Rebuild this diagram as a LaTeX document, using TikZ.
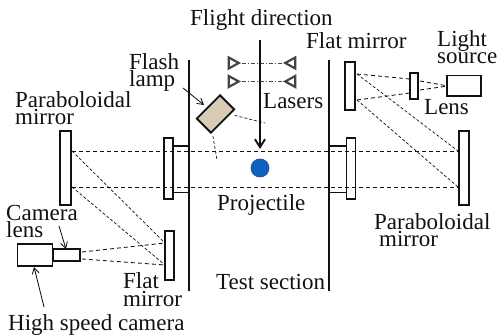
\documentclass[tikz,border=0pt]{standalone}
\usepackage{fontspec}
\setmainfont{Liberation Serif}
\usetikzlibrary{arrows.meta,shapes.geometric}
\definecolor{ink}{HTML}{111111}
\definecolor{lampfill}{HTML}{D8CCB4}
\definecolor{laserline}{HTML}{444444}
\definecolor{ballfill}{HTML}{0F62C0}
\definecolor{ballline}{HTML}{2F4F8F}
\tikzset{
  label text/.style={
    font=\fontsize{23}{17.5}\selectfont,
    text=ink,
    anchor=base west,
    align=left,
    inner sep=0pt
  },
  part/.style={
    draw=ink,
    line width=1.9pt,
    fill=none,
    inner sep=0pt,
    minimum width=10pt
  },
  wall/.style={
    draw=ink,
    line width=1.9pt
  },
  beam/.style={
    draw=ink,
    line width=0.85pt,
    dash pattern=on 4pt off 3pt
  },
  thin beam/.style={
    beam,
    line width=0.7pt,
    dash pattern=on 3pt off 2pt
  },
  laser beam/.style={
    draw=laserline,
    line width=0.6pt,
    dash pattern=on 4pt off 2pt on 1pt off 2pt
  },
  laser/.style={
    shape=isosceles triangle,
    isosceles triangle stretches=true,
    draw=laserline,
    line width=2.2pt,
    inner sep=0pt,
    minimum width=11pt,
    minimum height=10pt
  },
  pointer/.style={
    -{Straight Barb[length=6pt,width=7pt]},
    draw=ink,
    line width=0.85pt
  },
  flight/.style={
    -{Straight Barb[length=8pt,width=10pt]},
    draw=ink,
    line width=1.9pt
  }
}
\begin{document}
\begin{tikzpicture}[x=1pt,y=-1pt]
\useasboundingbox (0,0) rectangle (500,336);

% ---------------------------------------------------------------------------
% Test section walls and windows
% ---------------------------------------------------------------------------
\coordinate (wallLtop) at (189,60);
\coordinate (wallLbot) at (189,291);
\coordinate (wallRtop) at (329,60);
\coordinate (wallRbot) at (329,291);
\draw[wall] (wallLtop) -- (wallLbot);
\draw[wall] (wallRtop) -- (wallRbot);

\node[part, minimum width=9pt, minimum height=61pt] (windowL) at (168.5,168.5) {};
\node[part, minimum width=9pt, minimum height=61pt] (windowR) at (351,168.5) {};

\draw[wall] (windowL.east |- 0,146) -- (wallLtop |- 0,146);
\draw[wall] (windowL.east |- 0,192.5) -- (wallLtop |- 0,192.5);
\draw[wall] (windowR.west |- 0,146) -- (wallRtop |- 0,146);
\draw[wall] (windowR.west |- 0,192.5) -- (wallRtop |- 0,192.5);

% ---------------------------------------------------------------------------
% Optics
% ---------------------------------------------------------------------------
\node[part, minimum width=11pt, minimum height=73.5pt] (paraL) at (65.5,168.2) {};
\node[part, minimum height=73.5pt] (paraR) at (464,168.2) {};
\node[part, minimum width=9.5pt, minimum height=49pt] (flatL) at (169.5,255.5) {};
\node[part, minimum height=48pt] (flatR) at (350,86) {};
\node[part, minimum width=8pt, minimum height=26pt] (lensR) at (414,86) {};
\node[part, minimum width=34pt, minimum height=20.5pt] (source) at (464,85.8) {};
\node[part, minimum width=35pt, minimum height=22pt] (camera) at (35,255) {};
\node[part, minimum width=27pt, minimum height=12pt] (camlens) at (66.5,255) {};

\node[draw=ink, line width=1.9pt, fill=lampfill, rotate=45, inner sep=0pt,
  minimum width=33pt, minimum height=20pt] (lamp) at (215.5,114) {};
\node[circle, draw=ballline, line width=0.8pt, fill=ballfill, inner sep=0pt,
  minimum size=18pt] (ball) at (260,168) {};

\node[laser] (laserA) at (232,63) {};
\node[laser] (laserB) at (232,81.5) {};
\node[laser, shape border rotate=180] (laserC) at (292,63) {};
\node[laser, shape border rotate=180] (laserD) at (292,81.5) {};

\draw[laser beam] (laserA.apex) -- (laserC.apex);
\draw[laser beam] (laserB.apex) -- (laserD.apex);

% ---------------------------------------------------------------------------
% Light path
% ---------------------------------------------------------------------------
\coordinate (paraLtop) at (72,151);
\coordinate (paraLbot) at (72,187);
\coordinate (paraRtop) at (458,151);
\coordinate (paraRbot) at (458,187);
\coordinate (flatLtop) at (165,243);
\coordinate (flatLbot) at (165,265);
\coordinate (flatRtop) at (357,74);
\coordinate (flatRbot) at (357,100);
\coordinate (lensRtop) at (410,79);
\coordinate (lensRbot) at (410,93);
\coordinate (camlensA) at (82,252);
\coordinate (camlensB) at (82,259);
\coordinate (lensOutA) at (420,81);
\coordinate (lensOutB) at (420,90);
\coordinate (sourceIn) at (448,86);

\draw[beam] (paraLtop) -- (paraRtop);
\draw[beam] (paraLbot) -- (paraRbot);
\draw[thin beam] (paraLtop) -- (flatLtop);
\draw[thin beam] (paraLbot) -- (flatLbot);
\draw[beam] (camlensA) -- (flatLtop);
\draw[beam] (camlensB) -- (flatLbot);
\draw[thin beam] (flatRtop) -- (paraRtop);
\draw[thin beam] (flatRbot) -- (paraRbot);
\draw[beam] (flatRtop) -- (lensRtop);
\draw[beam] (flatRbot) -- (lensRbot);
\draw[beam] (lensOutA) -- (sourceIn);
\draw[beam] (lensOutB) -- (sourceIn);

% Flash lamp rays.
\coordinate (lampRayA) at (265,123);
\coordinate (lampRayB) at (217,160);
\draw[thin beam] (lamp.south east) ++(-1,6) -- (lampRayA);
\draw[thin beam] (lamp.south west) ++(2,2) -- (lampRayB);

% ---------------------------------------------------------------------------
% Pointers
% ---------------------------------------------------------------------------
\coordinate (flightStart) at (260,40);
\coordinate (flightEnd) at (260,149);
\coordinate (lampStart) at (183,88);
\coordinate (lampEnd) at (204,105);
\coordinate (camlensStart) at (59,226);
\coordinate (camlensEnd) at (66,249);
\coordinate (cameraStart) at (44,307);
\coordinate (cameraEnd) at (34,267);

\draw[flight] (flightStart) -- (flightEnd);
\draw[pointer] (lampStart) -- (lampEnd);
\draw[pointer] (camlensStart) -- (camlensEnd);
\draw[pointer] (cameraStart) -- (cameraEnd);

% ---------------------------------------------------------------------------
% Labels
% ---------------------------------------------------------------------------
\node[label text] (flightLabel) at (190,26) {Flight direction};
\node[label text] (lampLabel) at (129,87) {Flash\\lamp};
\node[label text] (paraLlabel) at (15,125) {Paraboloidal\\mirror};
\node[label text] (laserLabel) at (263,109) {Lasers};
\node[label text] (flatRlabel) at (306,49) {Flat mirror};
\node[label text] (sourceLabel) at (437,64) {Light\\source};
\node[label text] (lensLabel) at (424,115) {Lens};
\node[label text] (ballLabel) at (217,211) {Projectile};
\node[label text] (paraRlabel) at (374,247) {Paraboloidal\\\hspace*{5pt}mirror};
\node[label text] (sectionLabel) at (216,290) {Test section};
\node[label text] (camlensLabel) at (6,238) {Camera\\lens};
\node[label text] (flatLlabel) at (123,306) {Flat\\mirror};
\node[label text] (cameraLabel) at (8,330) {High speed camera};

\end{tikzpicture}
\end{document}
